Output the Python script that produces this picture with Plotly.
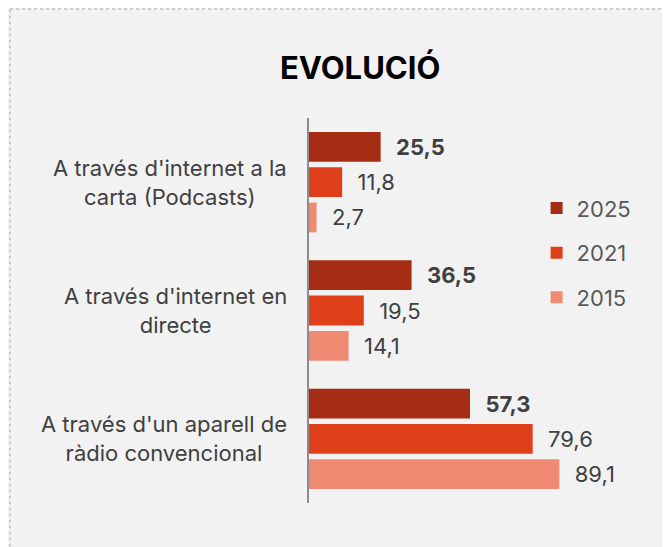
import plotly.graph_objects as go

categories = ["A través d'internet a la carta (Podcasts)",
              "A través d'internet en directe",
              "A través d'un aparell de ràdio convencional"]
cat_labels = ["A través d'internet a la<br>carta (Podcasts)",
              "A través d'internet en<br>directe",
              "A través d'un aparell de<br>ràdio convencional"]

years = ["2025", "2021", "2015"]
vals_2025 = [25.5, 36.5, 57.3]
vals_2021 = [11.8, 19.5, 79.6]
vals_2015 = [2.7, 14.1, 89.1]

colors = ["#a52d13", "#df4019", "#f08a72"]
FONT = "Inter"

fig = go.Figure()
for yr, vals, col in zip(years, [vals_2025, vals_2021, vals_2015], colors):
    bold = yr == "2025"
    fig.add_trace(go.Bar(
        y=categories, x=vals, name=yr, orientation="h",
        marker=dict(color=col, line=dict(width=0)),
        legendgroup=yr,
        texttemplate=("\u00a0\u00a0<b>%{x:.1f}</b>" if bold else "\u00a0\u00a0%{x:.1f}"),
        textposition="outside", cliponaxis=False,
        textfont=dict(family=FONT, size=22, color="#404040"),
        hoverinfo="skip",
    ))

# category labels, centred on two lines
for cat, lab in zip(categories, cat_labels):
    fig.add_annotation(x=0, xref="paper", y=cat, yref="y", text=lab,
                       xanchor="right", xshift=-20, align="center", showarrow=False,
                       font=dict(family=FONT, size=22, color="#404040"))

# title
fig.add_annotation(x=0.18, xref="paper", y=1.13, yref="paper", text="<b>EVOLUCIÓ</b>",
                   showarrow=False, xanchor="center", yanchor="middle",
                   font=dict(family=FONT, size=31, color="#000000"))

# dotted border, top and left edges only
border = dict(color="#a6a6a6", width=1, dash="dot")
fig.add_shape(type="line", xref="paper", yref="paper",
              x0=-1.064, x1=1.4, y0=1.283, y1=1.283, line=border)
fig.add_shape(type="line", xref="paper", yref="paper",
              x0=-1.064, x1=-1.064, y0=-0.3, y1=1.283, line=border)

# page body has an 8px margin, so the figure is 8px smaller each way
fig.update_layout(
    width=662, height=539,
    margin=dict(l=301, r=80, t=110, b=44, autoexpand=False),
    paper_bgcolor="#f2f2f2", plot_bgcolor="#f2f2f2",
    barmode="group", bargap=0.175, bargroupgap=0.155,
    separators=",.",
    showlegend=True,
    legend=dict(x=0.81, y=0.82, xanchor="left", yanchor="top",
                bgcolor="rgba(0,0,0,0)", tracegroupgap=13,
                font=dict(family=FONT, size=22, color="#595959")),
    font=dict(family=FONT),
)
fig.update_xaxes(range=[0, 100], visible=False, showgrid=False, zeroline=False)
fig.update_yaxes(autorange="reversed", showticklabels=False, showgrid=False,
                 showline=True, linecolor="#8c8c8c", linewidth=2, ticks="")

fig.write_html("out.html")
